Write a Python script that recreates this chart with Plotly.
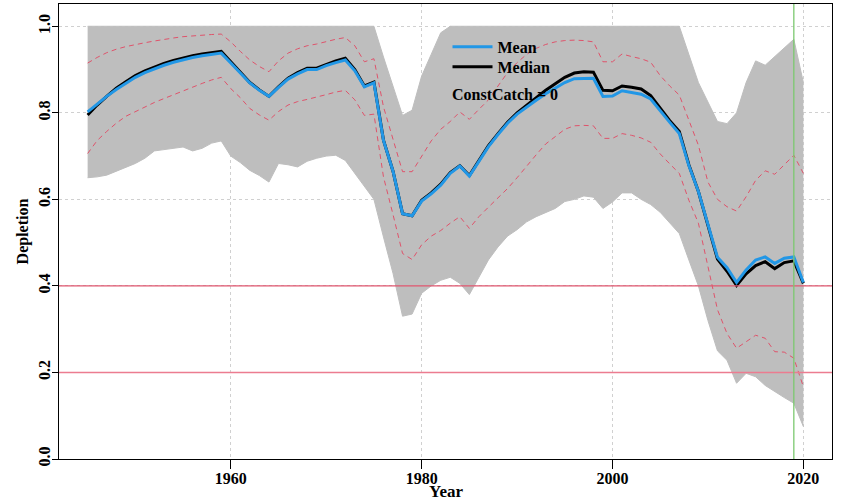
import plotly.graph_objects as go

years = list(range(1945, 2021))

median = [0.795, 0.818, 0.838, 0.857, 0.872, 0.886, 0.897, 0.906, 0.914, 0.921,
          0.927, 0.932, 0.936, 0.939, 0.942, 0.918, 0.893, 0.870, 0.853, 0.838,
          0.860, 0.880, 0.893, 0.903, 0.903, 0.912, 0.920, 0.926, 0.900, 0.862,
          0.871, 0.737, 0.665, 0.567, 0.562, 0.598, 0.615, 0.635, 0.662, 0.678,
          0.655, 0.690, 0.724, 0.752, 0.778, 0.800, 0.818, 0.834, 0.852, 0.867,
          0.882, 0.892, 0.895, 0.894, 0.852, 0.851, 0.862, 0.859, 0.855, 0.840,
          0.810, 0.782, 0.757, 0.680, 0.618, 0.540, 0.462, 0.434, 0.401, 0.428,
          0.447, 0.456, 0.440, 0.454, 0.458, 0.406]

mean = [0.802, 0.821, 0.838, 0.854, 0.868, 0.882, 0.893, 0.902, 0.910, 0.917,
        0.923, 0.928, 0.932, 0.935, 0.938, 0.915, 0.891, 0.869, 0.852, 0.838,
        0.859, 0.878, 0.890, 0.900, 0.900, 0.909, 0.916, 0.922, 0.897, 0.860,
        0.869, 0.736, 0.665, 0.567, 0.562, 0.596, 0.613, 0.633, 0.660, 0.677,
        0.654, 0.689, 0.722, 0.750, 0.776, 0.797, 0.814, 0.829, 0.844, 0.858,
        0.870, 0.879, 0.880, 0.880, 0.838, 0.839, 0.851, 0.847, 0.843, 0.832,
        0.804, 0.778, 0.752, 0.678, 0.618, 0.542, 0.466, 0.442, 0.408, 0.437,
        0.460, 0.467, 0.452, 0.464, 0.467, 0.408]

q_upper = [0.915, 0.928, 0.939, 0.947, 0.953, 0.958, 0.962, 0.966, 0.970, 0.973,
           0.976, 0.978, 0.980, 0.981, 0.982, 0.964, 0.942, 0.922, 0.907, 0.895,
           0.920, 0.938, 0.948, 0.955, 0.959, 0.965, 0.970, 0.974, 0.955, 0.918,
           0.925, 0.814, 0.740, 0.664, 0.664, 0.700, 0.735, 0.762, 0.780, 0.802,
           0.785, 0.808, 0.830, 0.862, 0.893, 0.916, 0.935, 0.949, 0.958, 0.964,
           0.967, 0.968, 0.967, 0.964, 0.918, 0.918, 0.936, 0.930, 0.925, 0.917,
           0.886, 0.862, 0.841, 0.783, 0.725, 0.640, 0.600, 0.583, 0.573, 0.606,
           0.644, 0.666, 0.658, 0.680, 0.702, 0.660]

q_lower = [0.706, 0.736, 0.757, 0.776, 0.792, 0.803, 0.813, 0.824, 0.833, 0.842,
           0.851, 0.860, 0.868, 0.876, 0.882, 0.856, 0.835, 0.810, 0.795, 0.783,
           0.803, 0.818, 0.826, 0.831, 0.836, 0.842, 0.848, 0.852, 0.830, 0.794,
           0.797, 0.652, 0.565, 0.475, 0.461, 0.495, 0.515, 0.528, 0.545, 0.560,
           0.533, 0.560, 0.582, 0.604, 0.625, 0.650, 0.677, 0.703, 0.728, 0.746,
           0.762, 0.770, 0.771, 0.770, 0.741, 0.741, 0.752, 0.748, 0.742, 0.732,
           0.705, 0.682, 0.660, 0.598, 0.545, 0.445, 0.345, 0.290, 0.256, 0.271,
           0.286, 0.279, 0.248, 0.247, 0.233, 0.167]

sim_max = [1.0] * 31 + [0.929, 0.860, 0.794, 0.806, 0.885, 0.935, 0.985] + [1.0] * 25 + \
          [0.935, 0.870, 0.825, 0.780, 0.775, 0.800, 0.870, 0.920, 0.910, 0.930, 0.950, 0.970, 0.870]

sim_min = [0.650, 0.652, 0.656, 0.665, 0.675, 0.683, 0.695, 0.712, 0.715, 0.718,
           0.721, 0.712, 0.718, 0.730, 0.735, 0.700, 0.685, 0.667, 0.655, 0.640,
           0.683, 0.680, 0.675, 0.688, 0.695, 0.700, 0.702, 0.690, 0.660, 0.629,
           0.600, 0.513, 0.429, 0.330, 0.335, 0.383, 0.400, 0.413, 0.420, 0.406,
           0.380, 0.420, 0.460, 0.490, 0.515, 0.530, 0.548, 0.560, 0.570, 0.579,
           0.595, 0.600, 0.608, 0.605, 0.579, 0.594, 0.615, 0.615, 0.600, 0.588,
           0.570, 0.545, 0.521, 0.460, 0.400, 0.320, 0.250, 0.228, 0.175, 0.198,
           0.190, 0.170, 0.155, 0.142, 0.129, 0.075]

ref_levels = [0.4, 0.2]
current_year = 2019
x_ticks = [1960, 1980, 2000, 2020]
y_ticks = [0.0, 0.2, 0.4, 0.6, 0.8, 1.0]
y_ticklabels = ["0.0", "0.2", "0.4", "0.6", "0.8", "1.0"]

SERIF = "Liberation Serif, Times New Roman, serif"
GREY = "#bebebe"
RED = "#DF536B"

fig = go.Figure()

fig.add_trace(go.Scatter(x=years, y=sim_min, mode="lines",
                         line=dict(color=GREY, width=1), showlegend=False, hoverinfo="skip"))
fig.add_trace(go.Scatter(x=years, y=sim_max, mode="lines", fill="tonexty",
                         fillcolor=GREY, line=dict(color=GREY, width=1),
                         showlegend=False, hoverinfo="skip"))

for q in (q_upper, q_lower):
    fig.add_trace(go.Scatter(x=years, y=q, mode="lines",
                             line=dict(color=RED, width=1, dash="5px,4px"),
                             showlegend=False))

fig.add_trace(go.Scatter(x=years, y=median, mode="lines", name="Median",
                         line=dict(color="black", width=3), legend="legend2"))
fig.add_trace(go.Scatter(x=years, y=mean, mode="lines", name="Mean",
                         line=dict(color="#2297E6", width=3), legend="legend"))

fig.add_hline(y=ref_levels[0], line=dict(color="#E0566F", width=1.3), layer="above")
fig.add_hline(y=ref_levels[1], line=dict(color="#EC7C90", width=1.6), layer="above")
fig.add_vline(x=current_year, line=dict(color="#7CC970", width=1.3), layer="above")

fig.add_annotation(text="<b>ConstCatch = 0</b>", xref="paper", yref="paper",
                   x=0.5058, y=0.80, xanchor="left", yanchor="middle", showarrow=False,
                   font=dict(family=SERIF, size=16, color="black"))

# x-axis title as annotation, kept fully inside the bottom edge
fig.add_annotation(text="<b>Year</b>", xref="paper", yref="paper",
                   x=0.5, y=-0.0955, xanchor="center", yanchor="bottom", showarrow=False,
                   borderpad=0, font=dict(family=SERIF, size=17, color="black"))

legend_style = dict(xanchor="left", yanchor="top", bgcolor="rgba(0,0,0,0)", borderwidth=0,
                    font=dict(family=SERIF, size=16, color="black", weight="bold"),
                    itemwidth=40, traceorder="normal")

fig.update_layout(
    width=854, height=503,
    margin=dict(l=59, r=22, t=4, b=44),
    paper_bgcolor="white", plot_bgcolor="white",
    font=dict(family=SERIF, size=16, color="black"),
    showlegend=True,
    legend=dict(x=0.5026, y=0.943, **legend_style),
    legend2=dict(x=0.5026, y=0.899, **legend_style),
)

fig.update_xaxes(
    range=[1942, 2023], tickvals=x_ticks, ticks="outside", ticklen=9,
    tickwidth=1, tickcolor="black", showline=True, linecolor="black", linewidth=1.2,
    mirror=True, showgrid=True, gridcolor="#d0d0d0", griddash="dot", gridwidth=1,
    zeroline=False, automargin=False, ticklabelstandoff=-4,
    tickfont=dict(family=SERIF, size=16, color="black", weight="bold"),
)
fig.update_yaxes(
    range=[0, 1.0515], tickvals=y_ticks, ticktext=y_ticklabels, tickangle=-90,
    ticks="outside", ticklen=6, tickwidth=1, tickcolor="black",
    showline=True, linecolor="black", linewidth=1.2, mirror=True,
    showgrid=True, gridcolor="#d0d0d0", griddash="dot", gridwidth=1,
    zeroline=False, automargin=False, ticklabelstandoff=-4,
    tickfont=dict(family=SERIF, size=16, color="black", weight="bold"),
    title=dict(text="<b>Depletion</b>", font=dict(family=SERIF, size=16, color="black"), standoff=2),
)

fig.write_html("out.html")
